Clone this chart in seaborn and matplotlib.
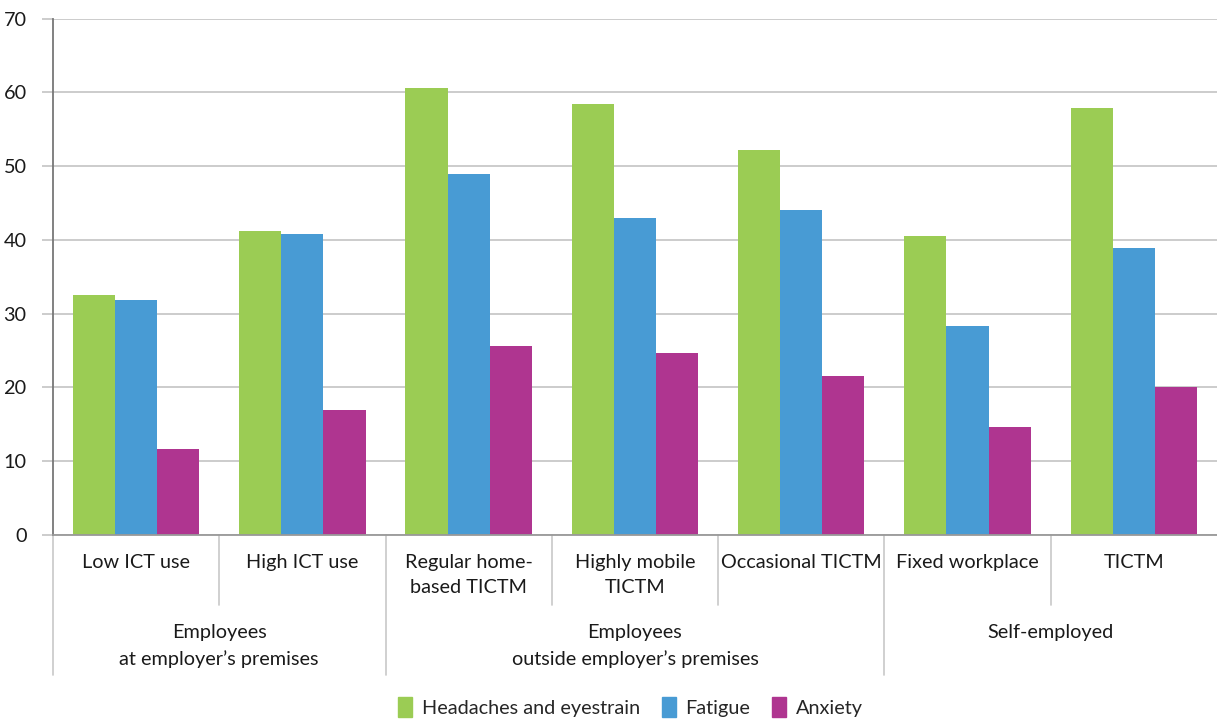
import numpy as np
import pandas as pd
import matplotlib
matplotlib.use('Agg')
import matplotlib.pyplot as plt
import matplotlib.transforms as mtransforms
import seaborn as sns

# data
categories = ['Low ICT use', 'High ICT use', 'Regular home-\nbased TICTM', 'Highly mobile\nTICTM',
              'Occasional TICTM', 'Fixed workplace', 'TICTM']
groups = ['Employees\nat employer\u2019s premises', 'Employees\noutside employer\u2019s premises', 'Self-employed']
group_sizes = [2, 3, 2]
series = ['Headaches and eyestrain', 'Fatigue', 'Anxiety']
headaches = [32.6, 41.2, 60.6, 58.5, 52.2, 40.5, 57.9]
fatigue = [31.8, 40.8, 49.0, 43.0, 44.0, 28.3, 38.9]
anxiety = [11.7, 16.9, 25.6, 24.7, 21.5, 14.7, 20.1]
colors = ['#9BCC54', '#489BD4', '#AF3590']

df = pd.DataFrame({
    'category': categories * 3,
    'series': [s for s in series for _ in categories],
    'value': headaches + fatigue + anxiety,
})

sns.set_style('white')
plt.rcParams['font.family'] = ['Lato', 'DejaVu Sans']
FS = 14.3

fig = plt.figure(figsize=(12.17, 7.2), dpi=100)
ax = fig.add_axes([0.0435, 0.257, 0.9565, 0.717])

sns.barplot(data=df, x='category', y='value', hue='series', order=categories,
            hue_order=series, palette=colors, width=0.76, saturation=1,
            linewidth=0, ax=ax, legend=False)

ax.set_xlim(-0.5, 6.5)
ax.set_ylim(0, 70)
ax.set_yticks(range(0, 71, 10))
ax.yaxis.grid(True, color='#C8C8C8', linewidth=1.3)
ax.set_axisbelow(True)
ax.set_xlabel('')
ax.set_ylabel('')
ax.set_xticks([])
ax.tick_params(axis='y', length=8, width=1.3, color='#C8C8C8', labelsize=FS,
               pad=11, left=True, labelcolor='#1a1a1a')
for s in ['top', 'right']:
    ax.spines[s].set_visible(False)
ax.spines['left'].set_color('#777777')
ax.spines['left'].set_linewidth(1.3)
ax.spines['bottom'].set_color('#999999')
ax.spines['bottom'].set_linewidth(1.3)

# hierarchical x labels
trans = mtransforms.blended_transform_factory(ax.transData, ax.transAxes)
for i, c in enumerate(categories):
    ax.text(i, -0.036, c, transform=trans, ha='center', va='top', fontsize=FS,
            linespacing=1.6, color='#1a1a1a')

edges = np.cumsum([0] + group_sizes) - 0.5
for k, g in enumerate(groups):
    mid = (edges[k] + edges[k + 1]) / 2
    ax.text(mid, -0.172, g, transform=trans, ha='center', va='top', fontsize=FS,
            linespacing=1.6, color='#1a1a1a')

for x in np.arange(0.5, 6.5, 1.0):
    low = -0.272 if x in edges else -0.136
    ax.plot([x, x], [0, low], transform=trans, color='#C8C8C8', lw=1.2, clip_on=False)
ax.plot([-0.5, -0.5], [0, -0.272], transform=trans, color='#C8C8C8', lw=1.2, clip_on=False)

handles = [plt.Rectangle((0, 0), 1, 1, color=c) for c in colors]
fig.legend(handles, series, loc='center', bbox_to_anchor=(0.518, 0.018), ncol=3,
           frameon=False, fontsize=FS, handlelength=0.7, handleheight=1.2,
           handletextpad=0.5, columnspacing=1.1)

fig.savefig('out.png', dpi=100)
